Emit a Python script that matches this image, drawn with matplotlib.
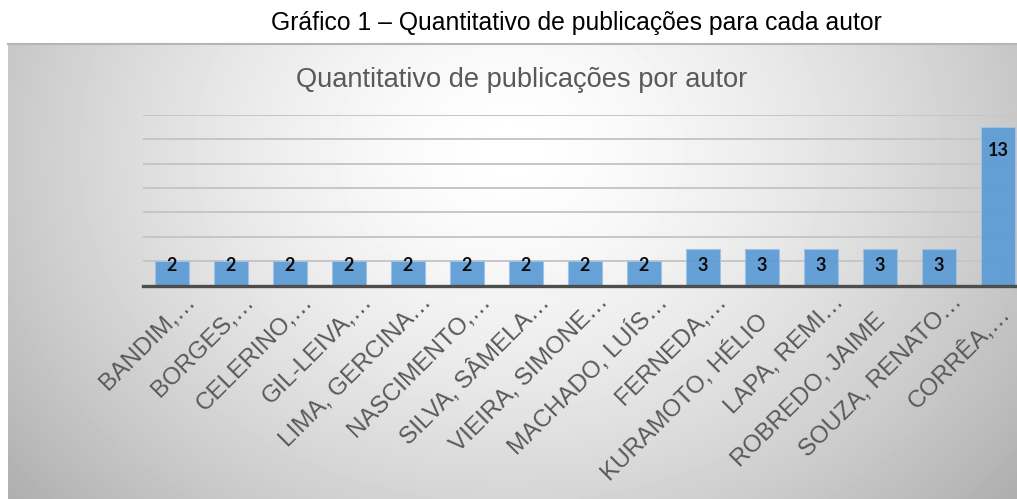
import numpy as np
import matplotlib.pyplot as plt
from matplotlib.transforms import ScaledTranslation

autores = ["BANDIM,…", "BORGES,…", "CELERINO,…", "GIL-LEIVA,…", "LIMA, GERCINA…",
           "NASCIMENTO,…", "SILVA, SÂMELA…", "VIEIRA, SIMONE…", "MACHADO, LUÍS…",
           "FERNEDA,…", "KURAMOTO, HÉLIO", "LAPA, REMI…", "ROBREDO, JAIME",
           "SOUZA, RENATO…", "CORRÊA,…"]
publicacoes = [2, 2, 2, 2, 2, 2, 2, 2, 2, 3, 3, 3, 3, 3, 13]
y_ticks = [0, 2, 4, 6, 8, 10, 12, 14]

titulo_externo = "Gráfico 1 – Quantitativo de publicações para cada autor"
titulo_interno = "Quantitativo de publicações por autor"

W, H = 1017, 499
fig = plt.figure(figsize=(W / 100, H / 100), dpi=100)

# background chart area with radial gray gradient
bg = fig.add_axes([0, 0, 1, 1], zorder=0)
xx, yy = np.meshgrid(np.arange(8, W) + 0.5, np.arange(43, H) + 0.5)
r = np.sqrt(((xx - 510) / 597) ** 2 + ((yy - 150) / 490) ** 2)
val = (255 - 70 * np.clip(r, 0, 1.1) ** 1.5) / 255
bg.imshow(val, cmap='gray', vmin=0, vmax=1, extent=(8, W, H, 43),
          aspect='auto', interpolation='bilinear')
bg.plot([8, W], [43.5, 43.5], color='#b5b5b5', lw=1.5)
bg.set_xlim(0, W)
bg.set_ylim(H, 0)
bg.axis('off')

fig.text(576 / W, 1 - 23 / H, titulo_externo, ha='center', va='center',
         fontsize=17.8, family='Liberation Sans', color='black')
fig.text(522 / W, 1 - 80 / H, titulo_interno, ha='center', va='center',
         fontsize=19.6, family='Liberation Sans', color='#595959')

ax_bottom = (H - 285.5) / H
ax_height = 170.5 / H
ax = fig.add_axes([142.5 / W, ax_bottom, 885 / W, ax_height], zorder=1)
ax.patch.set_visible(False)
x = np.arange(len(autores))
ax.bar(x, publicacoes, width=0.59, color='#5b9bd5', edgecolor='#9fc3e8',
       linewidth=0.8, alpha=0.93, zorder=3)
ax.set_xlim(-0.5, len(autores) - 0.5)
ax.set_ylim(0, 14)
ax.set_yticks(y_ticks)
ax.yaxis.grid(True, color='#c6c6c6', lw=1.4, zorder=1)
ax.set_axisbelow(True)
ax.tick_params(axis='y', left=False, labelleft=False)
for s in ['left', 'right', 'top']:
    ax.spines[s].set_visible(False)
ax.spines['bottom'].set_color('#4d4d4d')
ax.spines['bottom'].set_linewidth(2.4)
ax.spines['bottom'].set_zorder(4)
ax.set_xticks(x)
ax.set_xticklabels(autores, rotation=45, ha='right', va='center',
                   rotation_mode='anchor', fontsize=17.5, color='#595959',
                   family='Liberation Sans')
ax.tick_params(axis='x', length=0, pad=23)
for lab in ax.get_xticklabels():
    if lab.get_text().endswith('…'):
        shift = ScaledTranslation(20 / 100, 19 / 100, fig.dpi_scale_trans)
    else:
        shift = ScaledTranslation(2 / 100, 0, fig.dpi_scale_trans)
    lab.set_transform(lab.get_transform() + shift)

px_per_unit = 170.5 / 14
for i, v in enumerate(publicacoes):
    h_px = v * px_per_unit
    off = float(np.clip(h_px - 20, 0, 23))
    ax.annotate(str(v), (i, v), xytext=(0, -off * 0.72), textcoords='offset points',
                ha='center', va='center', fontsize=13, fontweight='bold',
                family='Lato', color='#0d0d0d', zorder=5)

# keep labels inside the figure's right edge (slide back along the 45° baseline)
fig.canvas.draw()
renderer = fig.canvas.get_renderer()
for lab in ax.get_xticklabels():
    bb = lab.get_window_extent(renderer)
    over = bb.x1 - (W - 2)
    if over > 0:
        lab.set_transform(lab.get_transform() +
                          ScaledTranslation(-over / 100, -over / 100, fig.dpi_scale_trans))

fig.savefig('out.png', dpi=100)
